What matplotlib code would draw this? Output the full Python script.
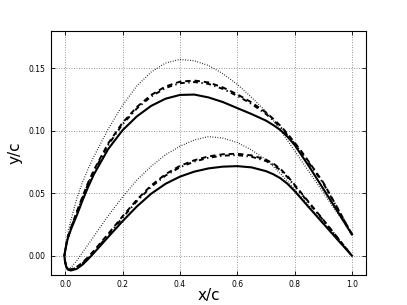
import numpy as np
import matplotlib
matplotlib.use("Agg")
import matplotlib.pyplot as plt

# chordwise stations (x/c)
x_st = [0.0, 0.005, 0.01, 0.02, 0.04, 0.06, 0.08, 0.1, 0.15, 0.2, 0.25, 0.3, 0.35, 0.4, 0.45,
        0.5, 0.55, 0.6, 0.65, 0.7, 0.725, 0.75, 0.775, 0.8, 0.825, 0.85, 0.9, 0.95, 1.0]
x_le = -0.003
y_le = 0.0

# solid airfoil
solid_up = [0.004, 0.010, 0.0145, 0.021, 0.032, 0.044, 0.055, 0.065, 0.0853, 0.1003, 0.1114, 0.1198, 0.1255,
            0.1285, 0.1288, 0.1265, 0.1228, 0.118, 0.1132, 0.108, 0.1045, 0.1005, 0.0952, 0.0885, 0.080,
            0.0715, 0.0535, 0.0353, 0.017]
solid_lo = [-0.006, -0.0098, -0.0112, -0.0118, -0.0105, -0.0072, -0.0027, 0.0022, 0.015, 0.0276, 0.0394, 0.0496,
            0.0575, 0.0632, 0.0672, 0.0698, 0.0712, 0.0716, 0.0706, 0.0676, 0.0652, 0.0620, 0.0575, 0.0517,
            0.0452, 0.0386, 0.0257, 0.0128, 0.0]

# dashed airfoil
dash_up = [0.004, 0.0105, 0.0152, 0.0225, 0.035, 0.047, 0.0585, 0.0685, 0.0898, 0.1063, 0.1189, 0.1285, 0.1353,
           0.1391, 0.1400, 0.1385, 0.1345, 0.129, 0.1225, 0.1145, 0.1095, 0.104, 0.0975, 0.0905, 0.083,
           0.075, 0.0585, 0.038, 0.017]
dash_lo = [-0.005, -0.009, -0.0105, -0.011, -0.009, -0.0055, -0.001, 0.004, 0.0175, 0.0315, 0.0448, 0.0562,
           0.0652, 0.0718, 0.0763, 0.0794, 0.0811, 0.0815, 0.0802, 0.0768, 0.0738, 0.0695, 0.0637, 0.0567,
           0.0497, 0.0427, 0.0287, 0.0144, 0.0]

# dash-dot airfoil
dd_up = [0.004, 0.0105, 0.015, 0.022, 0.0343, 0.0462, 0.0575, 0.0674, 0.0886, 0.1051, 0.1177, 0.1273, 0.1341,
         0.1379, 0.1388, 0.1373, 0.1333, 0.1278, 0.1213, 0.1133, 0.1084, 0.1029, 0.0965, 0.0895, 0.0821,
         0.0742, 0.0579, 0.0376, 0.017]
dd_lo = [-0.005, -0.009, -0.0105, -0.0112, -0.0095, -0.0062, -0.0018, 0.0031, 0.0164, 0.0304, 0.0437, 0.0551,
         0.0641, 0.0707, 0.0752, 0.0783, 0.080, 0.0804, 0.0791, 0.0757, 0.0727, 0.0685, 0.0628, 0.0559,
         0.049, 0.0421, 0.0283, 0.0142, 0.0]

# dotted airfoil
dot_up = [0.005, 0.013, 0.019, 0.0285, 0.0455, 0.0585, 0.0695, 0.0793, 0.1013, 0.1203, 0.1357, 0.1469, 0.154,
          0.1569, 0.1558, 0.152, 0.1455, 0.137, 0.1265, 0.1153, 0.1083, 0.1005, 0.0922, 0.0838, 0.0755,
          0.0672, 0.0504, 0.0337, 0.017]
dot_lo = [-0.004, -0.0085, -0.0102, -0.0095, -0.004, 0.0025, 0.009, 0.0155, 0.032, 0.047, 0.0605, 0.0715,
          0.0807, 0.0875, 0.0925, 0.0952, 0.094, 0.0905, 0.0845, 0.0768, 0.0715, 0.0657, 0.0595, 0.053,
          0.0465, 0.0398, 0.0265, 0.0132, 0.0]

x_ticks = [0.0, 0.2, 0.4, 0.6, 0.8, 1.0]
y_ticks = [0.00, 0.05, 0.10, 0.15]


def closed(xs, yu, yl):
    xa = list(reversed(xs)) + [x_le] + list(xs)
    ya = list(reversed(yu)) + [y_le] + list(yl)
    return xa, ya


fig = plt.figure(figsize=(4.07, 3.05), dpi=100)
ax = fig.add_axes([0.125, 0.1, 0.775, 0.8])

xa, ya = closed(x_st, dot_up, dot_lo)
ax.plot(xa, ya, color='k', lw=0.9, linestyle=(0, (0.6, 1.4)))
xa, ya = closed(x_st, dd_up, dd_lo)
ax.plot(xa, ya, color='k', lw=1.4, linestyle=(0, (2.5, 1.8, 0.7, 1.8)))
xa, ya = closed(x_st, dash_up, dash_lo)
ax.plot(xa, ya, color='k', lw=1.4, linestyle=(0, (2.8, 2.0)))
xa, ya = closed(x_st, solid_up, solid_lo)
ax.plot(xa, ya, color='k', lw=1.5, linestyle='-')

ax.set_xlim(-0.05, 1.05)
ax.set_ylim(-0.015, 0.18)
ax.set_xticks(x_ticks)
ax.set_yticks(y_ticks)
ax.set_xticklabels(["%.1f" % v for v in x_ticks])
ax.set_yticklabels(["%.2f" % v for v in y_ticks])
ax.tick_params(direction='in', top=True, right=True, labelsize=5.5, length=3, width=0.6, pad=4)
ax.grid(True, color='0.45', linestyle=(0, (1, 2)), linewidth=0.6)
for s in ax.spines.values():
    s.set_linewidth(0.8)
ax.set_xlabel('x/c', fontsize=11, labelpad=-1)
ax.set_ylabel('y/c', fontsize=11, labelpad=4)

fig.savefig('out.png', dpi=100)
